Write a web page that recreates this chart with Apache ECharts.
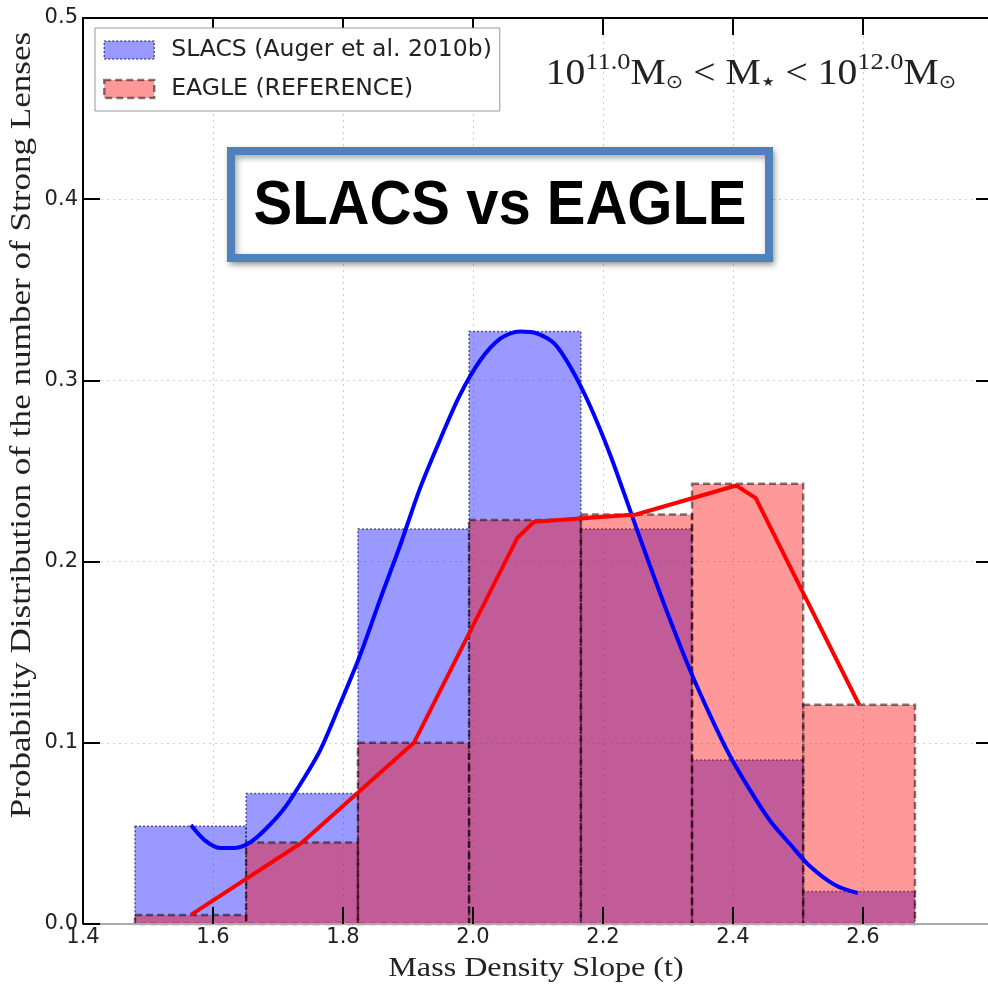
<!DOCTYPE html>
<html><head><meta charset="utf-8">
<script src="https://cdn.jsdelivr.net/npm/echarts@6/dist/echarts.min.js"></script>
<style>html,body{margin:0;padding:0;background:#fff;overflow:hidden;width:988px;height:986px}#c{width:993px;height:986px}</style>
</head><body><div id="c"></div><script>
// ---- data ----
const binEdges = [1.480, 1.651, 1.823, 1.994, 2.166, 2.337, 2.508, 2.680];
const slacsHist = [0.054, 0.072, 0.218, 0.327, 0.218, 0.0905, 0.018];
const eagleHist = [0.005, 0.045, 0.100, 0.223, 0.226, 0.243, 0.121];
const slacsCurveX = [1.566, 1.588, 1.611, 1.634, 1.657, 1.680, 1.708, 1.734, 1.765, 1.795, 1.826, 1.857, 1.888, 1.918, 1.949, 1.980, 2.011, 2.042, 2.072, 2.098, 2.126, 2.152, 2.180, 2.211, 2.242, 2.272, 2.303, 2.334, 2.365, 2.395, 2.426, 2.457, 2.488, 2.518, 2.557, 2.592];
const slacsCurveY = [0.0546, 0.046, 0.042, 0.042, 0.045, 0.052, 0.063, 0.077, 0.096, 0.121, 0.148, 0.179, 0.209, 0.240, 0.267, 0.292, 0.311, 0.323, 0.327, 0.326, 0.320, 0.306, 0.286, 0.259, 0.228, 0.198, 0.168, 0.140, 0.115, 0.093, 0.074, 0.057, 0.044, 0.032, 0.0215, 0.017];
const eagleCurveX = [1.566, 1.737, 1.909, 2.068, 2.094, 2.251, 2.405, 2.435, 2.594];
const eagleCurveY = [0.005, 0.045, 0.100, 0.213, 0.222, 0.226, 0.242, 0.235, 0.121];
const seriesNames = ['SLACS (Auger et al. 2010b)', 'EAGLE (REFERENCE)'];
const xAxisMin = 1.4, xAxisMax = 2.8, xStep = 0.2;
const yAxisMin = 0.0, yAxisMax = 0.5, yStep = 0.1;
const bottomTickValues = [1.6, 1.8, 2.0, 2.2, 2.4, 2.6];
const xTitle = 'Mass Density Slope (t)';
const yTitle = 'Probability Distribution of the number of Strong Lenses';
const chartTitle = 'SLACS vs EAGLE';

// ---- chart ----
const chart = echarts.init(document.getElementById('c'), null, {renderer: 'canvas'});

function histData(vals) {
  return vals.map((v, i) => [binEdges[i], binEdges[i + 1], v]);
}
function histRender(fill, stroke, dash, lw) {
  return function (params, api) {
    const p0 = api.coord([api.value(0), api.value(2)]);
    const p1 = api.coord([api.value(1), 0]);
    return {
      type: 'rect',
      shape: {x: p0[0], y: p0[1], width: p1[0] - p0[0], height: p1[1] - p0[1]},
      style: {fill: fill, stroke: stroke, lineWidth: lw, lineDash: dash}
    };
  };
}
// inward tick marks on the bottom spine, drawn above the bars (as in the reference)
function tickRender(params, api) {
  const p = api.coord([api.value(0), api.value(1)]);
  return {type: 'rect', shape: {x: p[0] - 1, y: p[1] - 17, width: 2, height: 17},
    style: {fill: '#000'}};
}
const blueFill = 'rgba(0,0,255,0.4)', redFill = 'rgba(255,0,0,0.4)';
const blueEdge = 'rgba(20,20,70,0.65)', redEdge = 'rgba(0,0,0,0.5)';

const gridLine = {show: true, lineStyle: {color: '#d0d0d0', type: [2, 4], width: 1}};
const labelFont = {fontFamily: 'DejaVu Sans', fontSize: 21, color: '#222'};

chart.setOption({
  animation: false,
  grid: {left: 83, right: 0, top: 18, bottom: 62, containLabel: false},
  xAxis: [{
    type: 'value', min: xAxisMin, max: xAxisMax, interval: xStep, position: 'bottom', z: 5,
    axisLine: {show: true, onZero: false, lineStyle: {color: '#aaa', width: 2}},
    axisTick: {show: true, inside: true, length: 17, lineStyle: {color: '#000', width: 2}},
    axisLabel: Object.assign({show: true, margin: 3, showMaxLabel: false, formatter: v => v.toFixed(1)}, labelFont),
    splitLine: {show: false}
  }, {
    type: 'value', min: xAxisMin, max: xAxisMax, interval: xStep, position: 'top', z: 0,
    axisLine: {show: true, onZero: false, lineStyle: {color: '#000', width: 2}},
    axisTick: {show: true, inside: true, length: 17, lineStyle: {color: '#000', width: 2}},
    axisLabel: {show: false}, splitLine: gridLine
  }],
  yAxis: [{
    type: 'value', min: yAxisMin, max: yAxisMax, interval: yStep, position: 'left', z: 5,
    axisLine: {show: true, onZero: false, lineStyle: {color: '#000', width: 2}},
    axisTick: {show: true, inside: true, length: 17, lineStyle: {color: '#000', width: 2}},
    axisLabel: Object.assign({show: true, margin: 5, formatter: v => v.toFixed(1)}, labelFont),
    splitLine: {show: false}
  }, {
    type: 'value', min: yAxisMin, max: yAxisMax, interval: yStep, position: 'right', z: 0,
    axisLine: {show: true, onZero: false, lineStyle: {color: '#000', width: 2}},
    axisTick: {show: true, inside: true, length: 17, lineStyle: {color: '#000', width: 2}},
    axisLabel: {show: false}, splitLine: gridLine
  }],
  legend: {
    orient: 'vertical', left: 95, top: 28, padding: [10, 8, 10, 8], itemGap: 15,
    itemWidth: 50, itemHeight: 18, borderColor: '#999', borderWidth: 1, backgroundColor: '#fff',
    textStyle: {fontFamily: 'DejaVu Sans', fontSize: 23.5, color: '#222', padding: [0, 0, 0, 12]},
    selectedMode: false,
    data: [
      {name: seriesNames[0], icon: 'rect',
        itemStyle: {color: blueFill, borderColor: blueEdge, borderWidth: 1.5, borderType: [2, 2]}},
      {name: seriesNames[1], icon: 'rect',
        itemStyle: {color: redFill, borderColor: redEdge, borderWidth: 2.5, borderType: [7, 4]}}
    ]
  },
  graphic: [
    {type: 'text', z: 100, x: 536, y: 969, scaleX: 1.19,
      style: {text: xTitle, fontFamily: 'Liberation Serif', fontSize: 27, fill: '#222',
        align: 'center', verticalAlign: 'middle'}},
    {type: 'text', z: 100, x: 22, y: 425, rotation: Math.PI / 2, scaleX: 1.21,
      style: {text: yTitle, fontFamily: 'Liberation Serif', fontSize: 29, fill: '#222',
        align: 'center', verticalAlign: 'middle'}},
    {type: 'text', z: 100, x: 751, y: 75, scaleX: 1.1,
      style: {
        text: '{m|10}{sup|11.0}{m|M}{sub|⊙}{m| < M}{star|★}{m| < 10}{sup|12.0}{m|M}{sub|⊙}',
        align: 'center', verticalAlign: 'middle',
        rich: {
          m: {fontFamily: 'Liberation Serif', fontSize: 36, fill: '#222'},
          sup: {fontFamily: 'Liberation Serif', fontSize: 24, fill: '#222', padding: [0, 0, 24, 0]},
          sub: {fontFamily: 'DejaVu Sans', fontSize: 19, fill: '#222', padding: [16, 0, 0, 0]},
          star: {fontFamily: 'DejaVu Sans', fontSize: 13, fill: '#222', padding: [16, 1, 0, 1]}
        }
      }},
    {type: 'rect', z: 100, shape: {x: 231, y: 151, width: 538, height: 107},
      style: {fill: '#fff', stroke: '#4f81bd', lineWidth: 8,
        shadowBlur: 6, shadowColor: 'rgba(0,0,0,0.35)', shadowOffsetX: 2, shadowOffsetY: 3}},
    {type: 'text', z: 101, x: 500, y: 207, scaleY: 1.08,
      style: {text: chartTitle, fontFamily: 'Liberation Sans', fontWeight: 'bold', fontSize: 58,
        fill: '#000', align: 'center', verticalAlign: 'middle'}}
  ],
  series: [
    {name: seriesNames[0], type: 'custom', xAxisIndex: 0, yAxisIndex: 0, z: 1,
      renderItem: histRender(blueFill, blueEdge, [2, 2], 1.5),
      encode: {x: [0, 1], y: 2}, data: histData(slacsHist), itemStyle: {color: blueFill}},
    {name: seriesNames[1], type: 'custom', xAxisIndex: 0, yAxisIndex: 0, z: 1,
      renderItem: histRender(redFill, redEdge, [7, 4], 2.5),
      encode: {x: [0, 1], y: 2}, data: histData(eagleHist), itemStyle: {color: redFill}},
    {name: 'bottom ticks', type: 'custom', xAxisIndex: 0, yAxisIndex: 0, z: 4, silent: true,
      clip: false, renderItem: tickRender, encode: {x: 0, y: 1},
      data: bottomTickValues.map(v => [v, yAxisMin])},
    {name: 'SLACS curve', type: 'line', showSymbol: false, smooth: 0.3, z: 3,
      data: slacsCurveX.map((x, i) => [x, slacsCurveY[i]]),
      lineStyle: {color: '#0000ff', width: 4}, itemStyle: {color: '#0000ff'}},
    {name: 'EAGLE curve', type: 'line', showSymbol: false, z: 3,
      data: eagleCurveX.map((x, i) => [x, eagleCurveY[i]]),
      lineStyle: {color: '#ff0000', width: 4}, itemStyle: {color: '#ff0000'}}
  ]
});
</script></body></html>
